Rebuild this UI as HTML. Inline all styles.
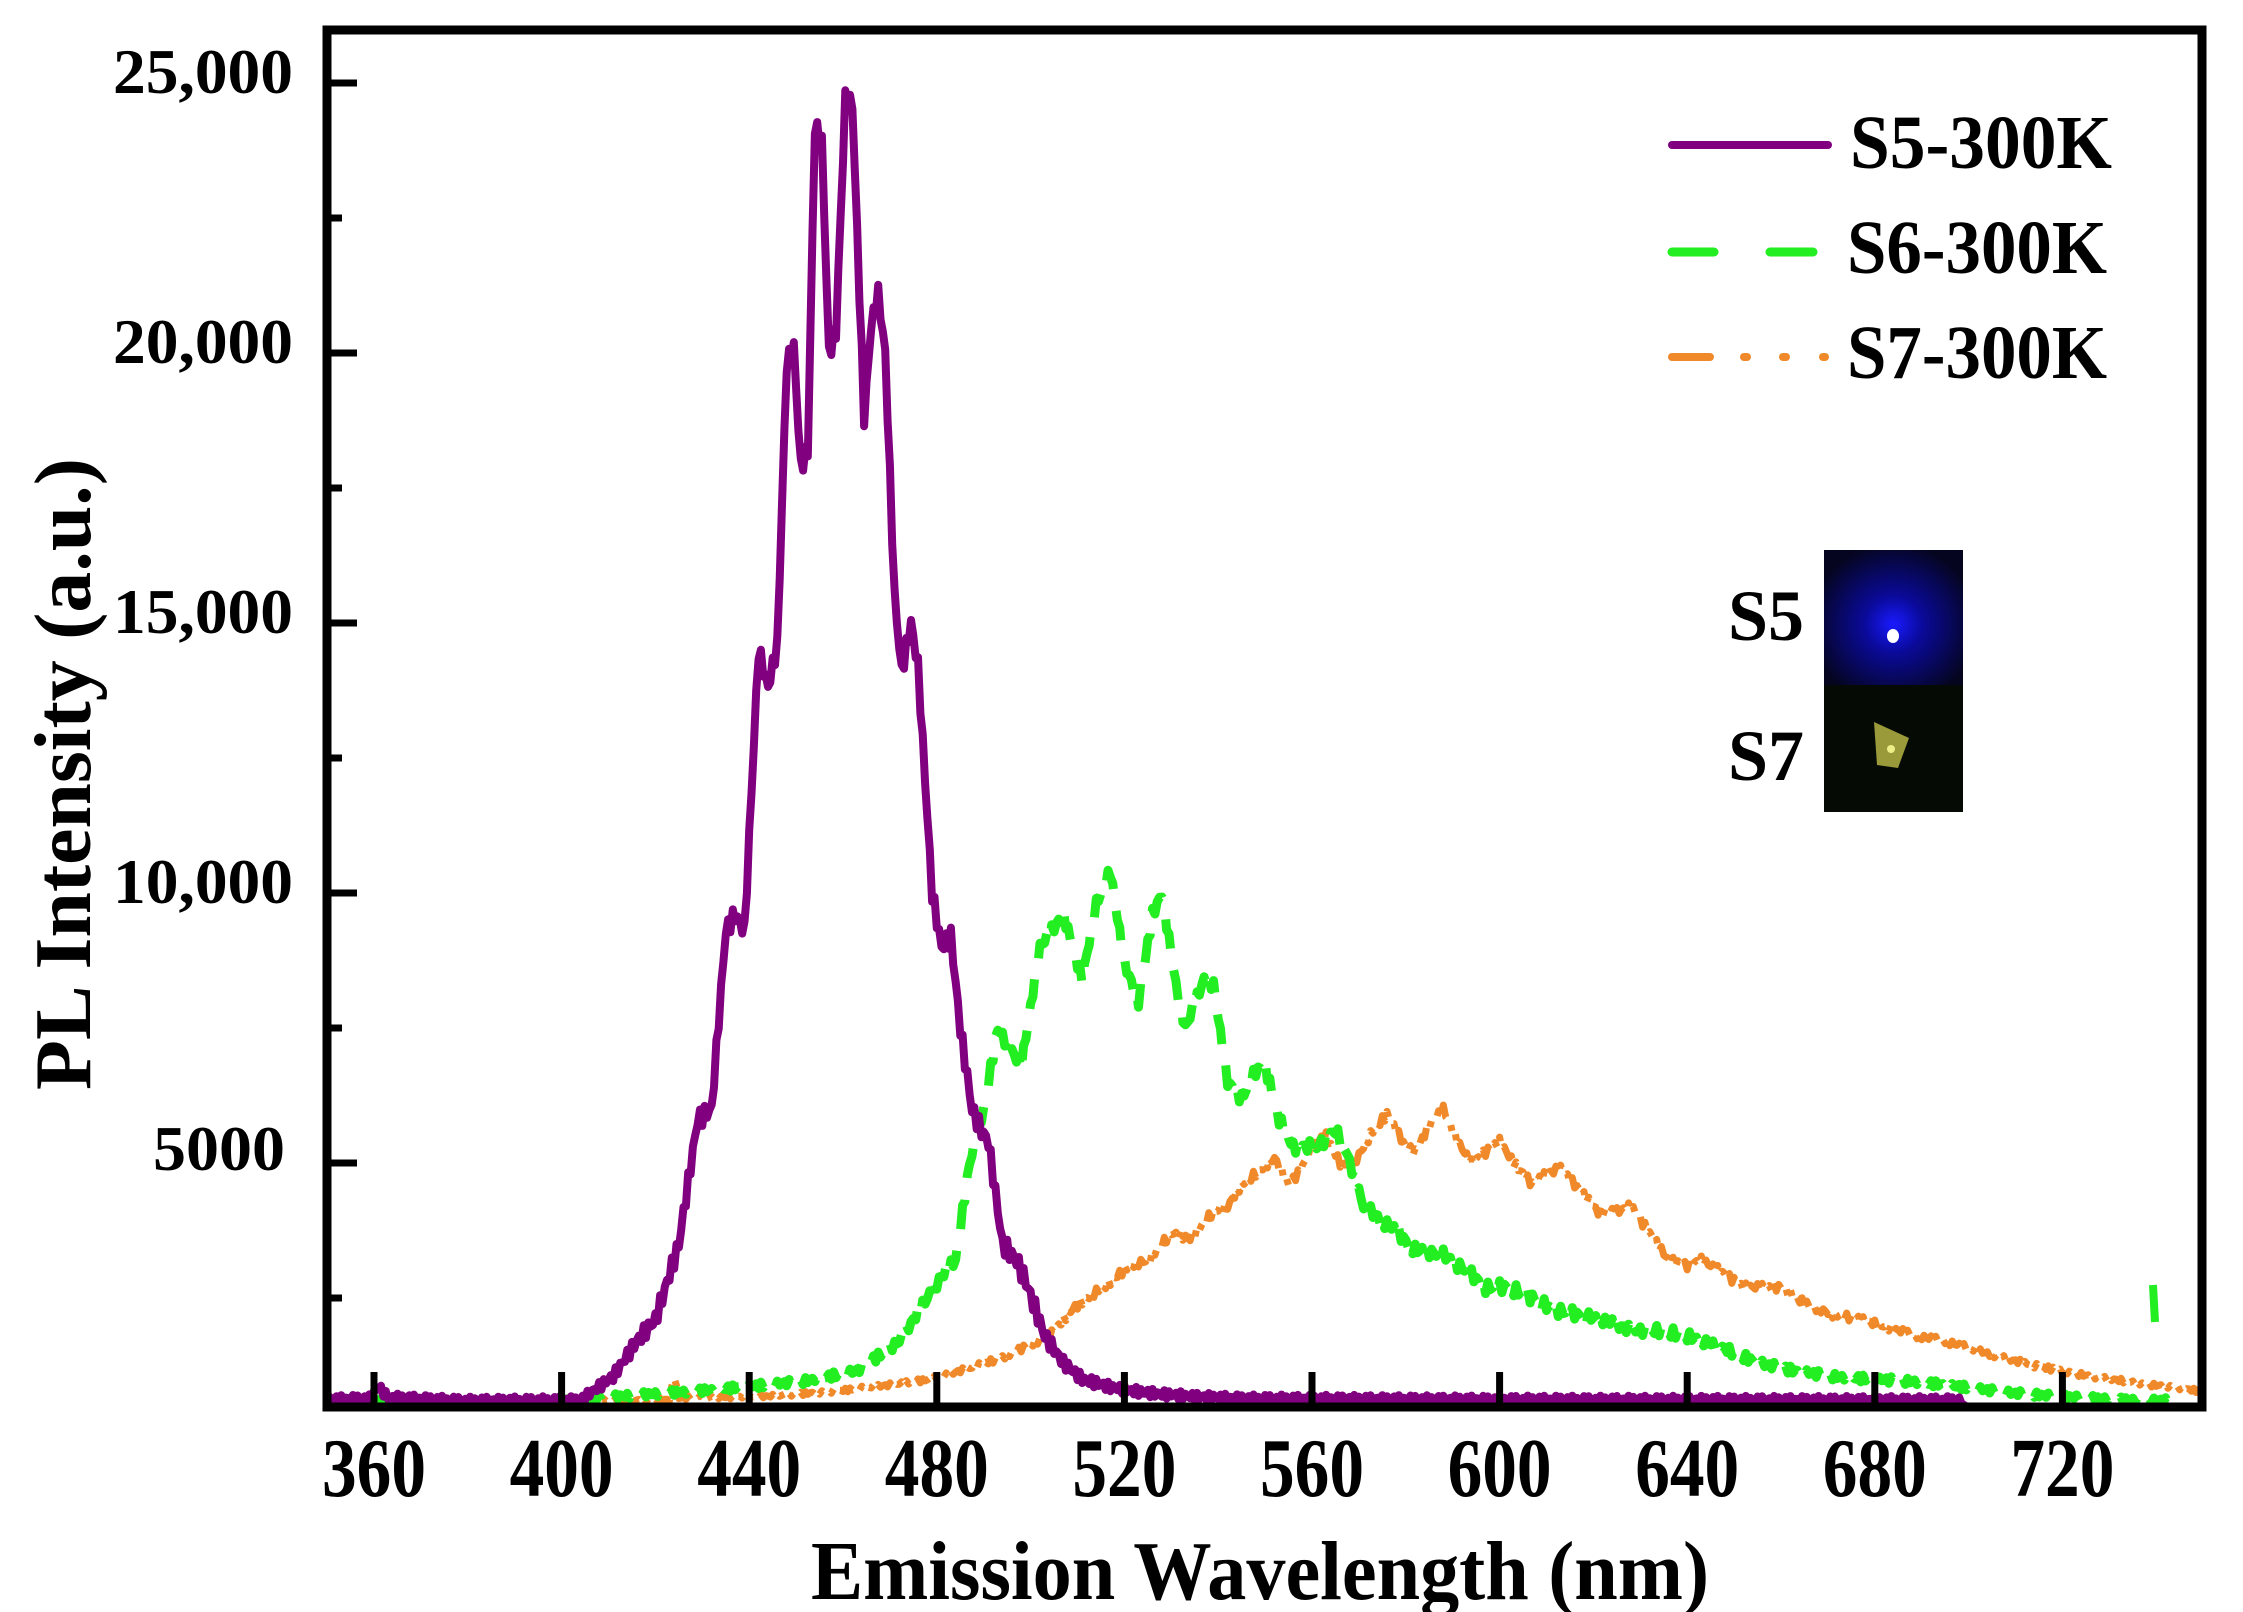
<!DOCTYPE html>
<html><head><meta charset="utf-8"><style>
html,body{margin:0;padding:0;background:#fff;}
svg{display:block;}
text{font-family:"Liberation Serif",serif;font-weight:bold;fill:#000;}
</style></head><body>
<svg id="s" width="2243" height="1612" viewBox="0 0 2243 1612" xmlns="http://www.w3.org/2000/svg">
<defs><clipPath id="c"><rect x="331" y="34" width="1867" height="1369"/></clipPath>
<radialGradient id="rb" cx="0.5" cy="0.55" r="0.6"><stop offset="0" stop-color="#1a1aff"/><stop offset="0.35" stop-color="#0a0a9a"/><stop offset="1" stop-color="#050520"/></radialGradient>
</defs>
<rect x="0" y="0" width="2243" height="1612" fill="#fff"/>
<g clip-path="url(#c)" fill="none" stroke-linejoin="round">
<path id="pO" stroke="#f0892a" stroke-width="7" stroke-dasharray="20 9 6 9 6 9"/>
<path id="pG" stroke="#22ee22" stroke-width="9" stroke-dasharray="30 22"/>
<path id="pP" stroke="#800080" stroke-width="8"/>
<path id="pG2" stroke="#22ee22" stroke-width="8" d="M2153 1285 L2155 1322"/>
</g>
<g id="ticks" stroke="#000" stroke-width="7"></g>
<rect x="327" y="30" width="1875" height="1377" fill="none" stroke="#000" stroke-width="9"/>
<g font-size="64" text-anchor="end">
<text x="293" y="93" textLength="180" lengthAdjust="spacingAndGlyphs">25,000</text>
<text x="293" y="363" textLength="180" lengthAdjust="spacingAndGlyphs">20,000</text>
<text x="293" y="633" textLength="180" lengthAdjust="spacingAndGlyphs">15,000</text>
<text x="293" y="903" textLength="180" lengthAdjust="spacingAndGlyphs">10,000</text>
<text x="285" y="1170" textLength="132" lengthAdjust="spacingAndGlyphs">5000</text>
</g>
<g id="xl" font-size="84" text-anchor="middle"></g>
<text x="811" y="1599" font-size="84" textLength="898" lengthAdjust="spacingAndGlyphs">Emission Wavelength (nm)</text>
<text transform="translate(90,1090) rotate(-90)" font-size="80" textLength="632" lengthAdjust="spacingAndGlyphs">PL Intensity (a.u.)</text>
<g stroke-linecap="round">
<line x1="1672" y1="145" x2="1828" y2="145" stroke="#800080" stroke-width="8"/>
<line x1="1672" y1="252" x2="1714" y2="252" stroke="#22ee22" stroke-width="9"/>
<line x1="1770" y1="252" x2="1813" y2="252" stroke="#22ee22" stroke-width="9"/>
<line x1="1672" y1="357" x2="1710" y2="357" stroke="#f0892a" stroke-width="8"/>
<line x1="1744" y1="357" x2="1747" y2="357" stroke="#f0892a" stroke-width="8"/>
<line x1="1783" y1="357" x2="1786" y2="357" stroke="#f0892a" stroke-width="8"/>
<line x1="1823" y1="357" x2="1825" y2="357" stroke="#f0892a" stroke-width="8"/>
</g>
<g font-size="76">
<text x="1850" y="168" textLength="262" lengthAdjust="spacingAndGlyphs">S5-300K</text>
<text x="1847" y="273" textLength="260" lengthAdjust="spacingAndGlyphs">S6-300K</text>
<text x="1847" y="378" textLength="260" lengthAdjust="spacingAndGlyphs">S7-300K</text>
</g>
<rect x="1824" y="550" width="139" height="135" fill="url(#rb)"/>
<rect x="1824" y="685" width="139" height="127" fill="#050a05"/>
<ellipse cx="1893" cy="636" rx="6" ry="7" fill="#fff"/>
<polygon points="1874,722 1909,738 1898,768 1877,765" fill="#9a9a3a"/>
<circle cx="1891" cy="749" r="4" fill="#eeee88"/>
<text x="1728" y="640" font-size="72">S5</text>
<text x="1728" y="780" font-size="72">S7</text>
</svg>
<script>
(function(){
var X=function(n){return 4.69*(n-1)-1314.4;}, Y=function(v){return 1433-0.054*v;};
function path(pts,noise,step){
  var d='',i,n;
  for(i=0;i<pts.length-1;i++){
    var a=pts[i],b=pts[i+1];
    for(n=a[0];n<b[0];n+=step){
      var t=(n-a[0])/(b[0]-a[0]);
      var v=a[1]+(b[1]-a[1])*t;
      v+=noise*Math.sin(n*7.3)*Math.min(1,v/3000+0.2);
      d+=(d?'L':'M')+X(n).toFixed(1)+' '+Y(v).toFixed(1);
    }
  }
  var l=pts[pts.length-1];d+='L'+X(l[0]).toFixed(1)+' '+Y(l[1]).toFixed(1);
  return d;
}
var P=[[349,620],[360,640],[362,850],[364,660],[380,600],[405,610],[412,1050],[417,1700],[421,2100],[426,3500],[430,5800],[433,6000],[436,9300],[438,9600],[440,9300],[443,14500],[445,13800],[447,14600],[449,19800],[450.5,20100],[452,17900],[453.5,18200],[455,24200],[456.5,23900],[458,20000],[459.5,20400],[461.5,24700],[463,24600],[465.5,18800],[467,20500],[468.5,21100],[470,20000],[472,15500],[473.5,14100],[475.5,15000],[477,14200],[480,10000],[482,9000],[484,9200],[486,7500],[488.5,6000],[490.5,5600],[492,5400],[495,3500],[498,3200],[500,2800],[504,1800],[508,1300],[512,1000],[518,850],[525,750],[535,680],[546,640],[600,620],[700,610]];
var G=[[349,600],[400,600],[433,800],[452,950],[464,1150],[473,1700],[482,2900],[485,3200],[488,5000],[491,6000],[494,7500],[496,7200],[499,6800],[503,9000],[508,9600],[512,8400],[515,9800],[518,10400],[521,8700],[524,8000],[527,9600],[529,10000],[532,8300],[534,7500],[538,8400],[540,8300],[543,6500],[546,6200],[549,6700],[551,6800],[554,5800],[557,5300],[562,5300],[566,5600],[568,5300],[572,4200],[578,3800],[583,3400],[589,3300],[594,3000],[598,2700],[603,2700],[608,2500],[612,2300],[617,2200],[623,2100],[629,1900],[635,1900],[641,1800],[648,1600],[656,1300],[664,1150],[672,1050],[680,1000],[690,950],[700,850],[709,750],[720,680],[733,620],[745,600]];
var O=[[349,600],[420,610],[424,620],[425,1050],[426,650],[445,680],[460,780],[472,900],[480,1000],[488,1200],[495,1400],[500,1600],[505,1800],[510,2300],[513,2500],[518,2800],[522,3100],[526,3200],[531,3700],[535,3600],[540,4100],[543,4200],[546,4600],[549,4800],[553,5100],[556,4600],[558,4800],[562,5400],[564,5500],[567,5000],[570,5000],[574,5600],[577,5900],[581,5300],[583,5200],[586,5700],[589,6000],[592,5400],[595,5000],[598,5200],[601,5400],[604,5000],[608,4600],[611,4800],[614,4900],[618,4500],[622,4100],[626,4100],[629,4200],[633,3700],[637,3200],[641,3100],[644,3200],[648,3000],[653,2700],[657,2700],[661,2700],[666,2400],[672,2200],[678,2100],[684,1950],[690,1800],[696,1700],[702,1550],[708,1400],[715,1250],[721,1150],[727,1050],[733,980],[739,900],[745,850],[752,750]];
document.getElementById('pP').setAttribute('d',path(P,180,0.5));
document.getElementById('pG').setAttribute('d',path(G,120,0.5));
document.getElementById('pO').setAttribute('d',path(O,80,0.5));
var tk=document.getElementById('ticks'),xl=document.getElementById('xl'),ns='http://www.w3.org/2000/svg';
function ln(x1,y1,x2,y2){var e=document.createElementNS(ns,'line');e.setAttribute('x1',x1);e.setAttribute('y1',y1);e.setAttribute('x2',x2);e.setAttribute('y2',y2);tk.appendChild(e);}
for(var n=360;n<=720;n+=40){var x=374+4.69*(n-360);ln(x,1407,x,1372);
 var t=document.createElementNS(ns,'text');t.setAttribute('x',x);t.setAttribute('y',1496);t.setAttribute('textLength',104);t.setAttribute('lengthAdjust','spacingAndGlyphs');t.textContent=n;xl.appendChild(t);}
for(var v=2500;v<=25000;v+=2500){var y=1433-0.054*v;var L=(v%5000==0)?30:15;ln(327,y,327+L,y);}
})();
</script>
</body></html>
